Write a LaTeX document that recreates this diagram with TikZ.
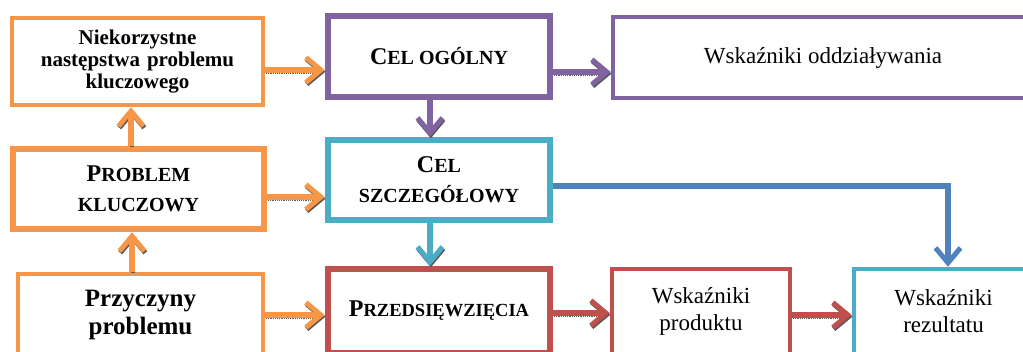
\documentclass[tikz,border=0pt]{standalone}
\usepackage{fontspec}
\setmainfont{Liberation Serif}
\usetikzlibrary{arrows.meta}
\definecolor{orng}{HTML}{F79646}
\definecolor{purp}{HTML}{8064A2}
\definecolor{cyn}{HTML}{4BACC6}
\definecolor{rd}{HTML}{C0504D}
\definecolor{blu}{HTML}{4F81BD}
\newcommand\smcap[1]{{\fontsize{20}{22}\selectfont #1}}

\begin{document}
\begin{tikzpicture}[x=1pt, y=-1pt,
    box/.style={draw, fill=white, align=center, inner sep=0pt},
    arr/.style={line width=5.5pt, -{Straight Barb[length=15pt,width=25pt,line width=5pt]}},
    shd/.style={preaction={draw=black!65, line width=4pt, dash pattern=on 1.2pt off 1pt,
                transform canvas={shift={(0.8pt,-1.6pt)}}}},
    bold24/.style={font=\bfseries\fontsize{24}{30}\selectfont},
    reg23/.style={font=\fontsize{23}{27}\selectfont}]
    \useasboundingbox (0,0) rectangle (1023,351);
    % left column
    \node[box, draw=orng, line width=4.5pt, minimum width=251pt, minimum height=87pt,
          font=\bfseries\fontsize{21}{22}\selectfont, text width=240pt]
          (neg) at (137.5,61.5) {Niekorzystne\\ następstwa problemu\\ kluczowego};
    \node[box, draw=orng, line width=6pt, minimum width=251.5pt, minimum height=80.5pt,
          bold24, text width=240pt] (prob) at (138.5,189) {P\smcap{ROBLEM}\\ \smcap{KLUCZOWY}};
    \node[box, draw=orng, line width=4.5pt, minimum width=245pt, minimum height=82pt,
          font=\bfseries\fontsize{25}{28}\selectfont, text width=235pt]
          (cause) at (140.5,315) {Przyczyny\\ problemu};
    % middle column
    \node[box, draw=purp, line width=6pt, minimum width=222.5pt, minimum height=81.5pt,
          bold24] (goal) at (439,56.5) {C\smcap{EL OGÓLNY}};
    \node[box, draw=cyn, line width=6pt, minimum width=222.5pt, minimum height=80.5pt,
          bold24, text width=215pt] (spec) at (439,180) {C\smcap{EL}\\ \smcap{SZCZEGÓŁOWY}};
    \node[box, draw=rd, line width=6pt, minimum width=222.5pt, minimum height=84.5pt,
          bold24] (proj) at (439,311) {P{\fontsize{18.5}{20}\selectfont RZEDSIĘWZIĘCIA}};
    % right side
    \node[box, draw=purp, line width=4.5pt, minimum width=420pt, minimum height=81pt,
          reg23] (impact) at (823,57.5) {Wskaźniki oddziaływania};
    \node[box, draw=rd, line width=4.5pt, minimum width=178pt, minimum height=85pt,
          reg23, text width=170pt] (prod) at (701,311.5) {Wskaźniki\\ produktu};
    \node[box, draw=cyn, line width=4.5pt, minimum width=179pt, minimum height=85pt,
          reg23, text width=170pt] (result) at (943.5,311.5) {Wskaźniki\\ rezultatu};
    % connectors
    \draw[arr, shd, orng] (prob.north -| 131,0) -- (neg.south -| 131,0);
    \draw[arr, shd, orng] (cause.north -| 132,0) -- (prob.south -| 132,0);
    \draw[arr, shd, orng] (neg.east |- 0,70) -- (goal.west |- 0,70);
    \draw[arr, shd, orng] (prob.east |- 0,197) -- (spec.west |- 0,197);
    \draw[arr, shd, orng] (cause.east |- 0,315) -- (proj.west |- 0,315);
    \draw[arr, shd, purp] (goal.east |- 0,72) -- (impact.west |- 0,72);
    \draw[arr, shd, purp] (goal.south -| 430,0) -- (spec.north -| 430,0);
    \draw[arr, shd, cyn] (spec.south -| 430,0) -- (proj.north -| 430,0);
    \draw[arr, shd, rd] (proj.east |- 0,313) -- (prod.west |- 0,313);
    \draw[arr, shd, rd] (prod.east |- 0,315) -- (result.west |- 0,315);
    \draw[arr, blu] (spec.east |- 0,186) -| ([xshift=4.5pt]result.north);
\end{tikzpicture}
\end{document}
